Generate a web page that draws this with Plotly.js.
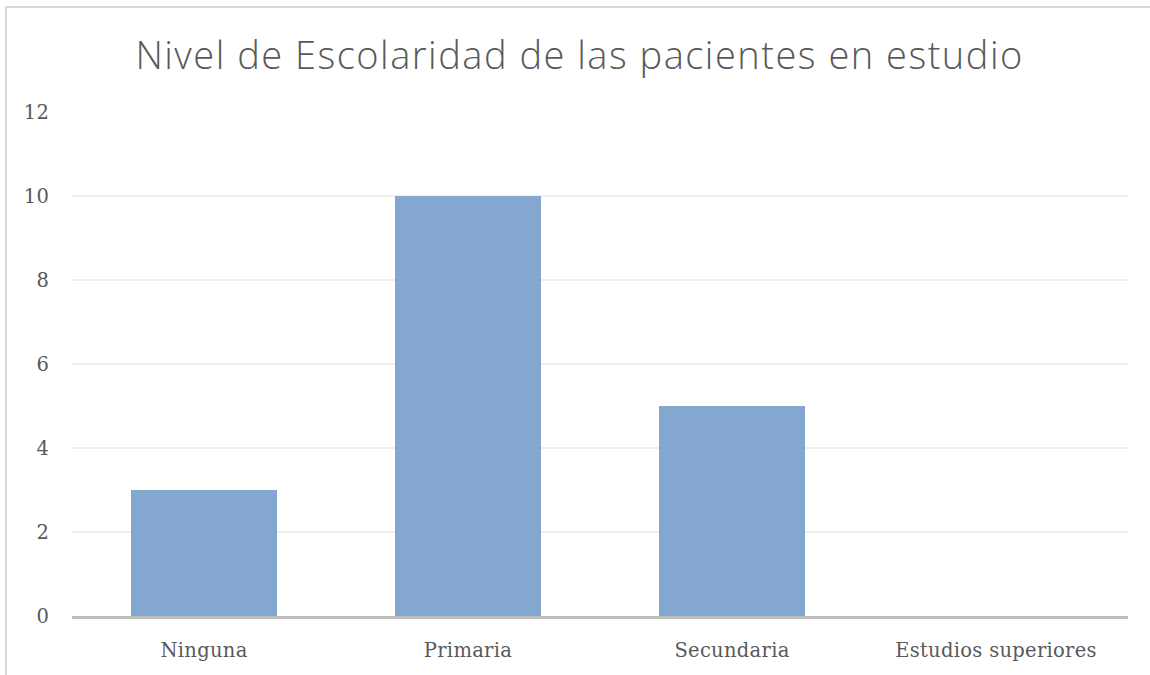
<!DOCTYPE html>
<html>
<head>
<meta charset="utf-8">
<script src="https://cdn.plot.ly/plotly-3.0.1.min.js"></script>
<style>
html,body{margin:0;padding:0;background:#fff;}
#wrap{position:relative;width:1150px;height:675px;}
#frame{position:absolute;left:5px;top:6px;width:1150px;height:675px;border-top:2px solid #d9d9d9;border-left:2px solid #d9d9d9;pointer-events:none;}
#chart{position:absolute;left:0;top:0;width:1150px;height:675px;}
.gtitle{letter-spacing:1.5px;}
.xtick text,.ytick text{letter-spacing:0.3px;}
</style>
</head>
<body>
<div id="wrap"><div id="chart"></div><div id="frame"></div></div>
<script>
const categories = ["Ninguna", "Primaria", "Secundaria", "Estudios superiores"];
const values = [3, 10, 5, 0];
const yTicks = [0, 2, 4, 6, 8, 10, 12];
const titleText = "Nivel de Escolaridad de las pacientes en estudio";

const trace = {
  type: "bar",
  x: categories,
  y: values,
  marker: {color: "#84a7cf"},
  hoverinfo: "skip"
};

const layout = {
  width: 1150,
  height: 675,
  margin: {l: 72, r: 22, t: 112, b: 59, pad: 0},
  paper_bgcolor: "rgba(0,0,0,0)",
  plot_bgcolor: "#fff",
  bargap: 0.447,
  showlegend: false,
  title: {
    text: titleText,
    x: 0.504, xref: "container", xanchor: "center",
    y: 56, yref: "container", yanchor: "middle",
    font: {family: "Open Sans, sans-serif", size: 38, weight: 300, color: "#595959"}
  },
  xaxis: {
    type: "category",
    showgrid: false,
    showline: true, linecolor: "#bfbfbf", linewidth: 2.5,
    ticks: "outside", ticklen: 15, tickcolor: "rgba(0,0,0,0)",
    tickfont: {family: "DejaVu Serif, serif", size: 19.5, color: "#595959"},
    zeroline: false, fixedrange: true
  },
  yaxis: {
    range: [0, 12],
    tickvals: yTicks,
    ticktext: yTicks.map(String),
    showgrid: true, gridcolor: "#eeeeee", gridwidth: 1.5,
    showline: false, zeroline: false,
    ticks: "outside", ticklen: 18, tickcolor: "rgba(0,0,0,0)",
    tickfont: {family: "DejaVu Serif, serif", size: 19.5, color: "#595959"},
    fixedrange: true
  }
};

Plotly.newPlot("chart", [trace], layout, {displayModeBar: false, staticPlot: true});
</script>
</body>
</html>
